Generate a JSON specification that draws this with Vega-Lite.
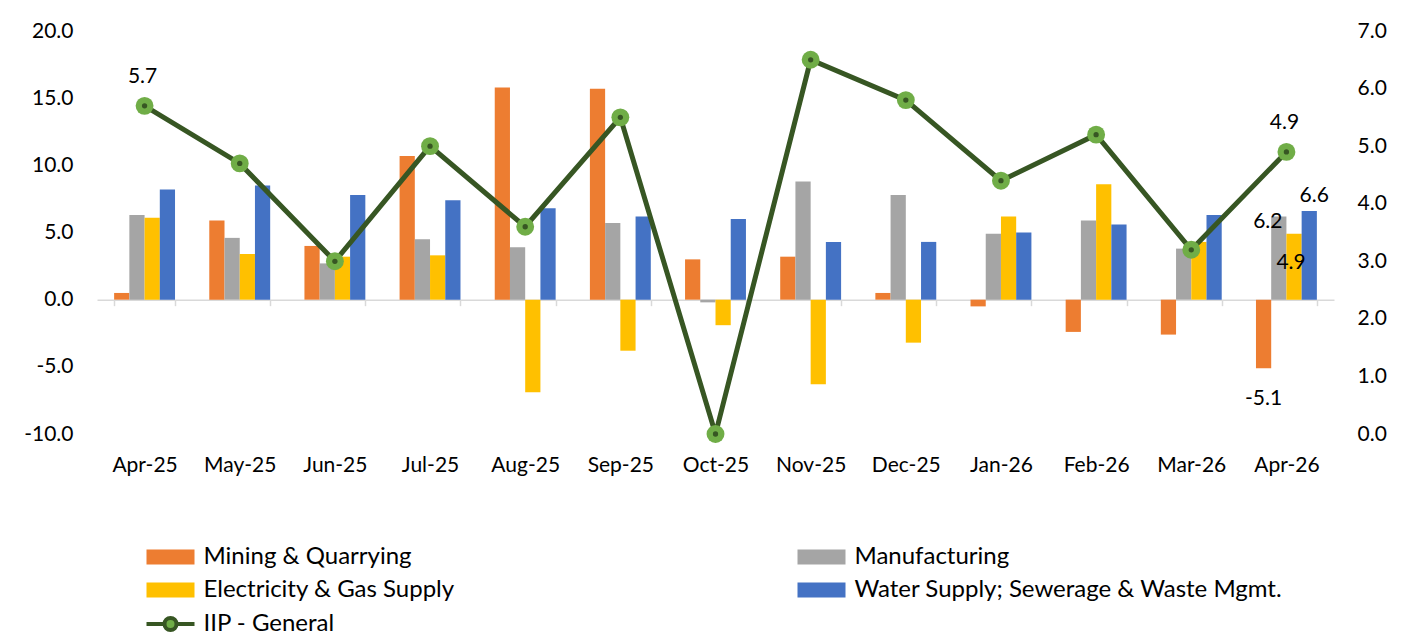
{
  "$schema": "https://vega.github.io/schema/vega-lite/v6.json",
  "autosize": {"type": "none"},
  "width": 1237,
  "height": 403,
  "padding": {"left": 97, "top": 31, "right": 67, "bottom": 202},
  "background": "white",
  "config": {
    "view": {"stroke": null},
    "font": "Lato",
    "locale": {"number": {"decimal": ".", "thousands": ",", "grouping": [3], "currency": ["$", ""], "minus": "-"}},
    "axis": {"labelFont": "Lato", "labelColor": "#000000", "labelFontSize": 21, "grid": false, "title": null},
    "legend": {"labelFont": "Lato", "labelColor": "#000000"}
  },
  "datasets": {
    "sectors": [
      {"month": "Apr-25", "series": "Mining & Quarrying", "value": 0.5},
      {"month": "May-25", "series": "Mining & Quarrying", "value": 5.9},
      {"month": "Jun-25", "series": "Mining & Quarrying", "value": 4.0},
      {"month": "Jul-25", "series": "Mining & Quarrying", "value": 10.7},
      {"month": "Aug-25", "series": "Mining & Quarrying", "value": 15.8},
      {"month": "Sep-25", "series": "Mining & Quarrying", "value": 15.7},
      {"month": "Oct-25", "series": "Mining & Quarrying", "value": 3.0},
      {"month": "Nov-25", "series": "Mining & Quarrying", "value": 3.2},
      {"month": "Dec-25", "series": "Mining & Quarrying", "value": 0.5},
      {"month": "Jan-26", "series": "Mining & Quarrying", "value": -0.5},
      {"month": "Feb-26", "series": "Mining & Quarrying", "value": -2.4},
      {"month": "Mar-26", "series": "Mining & Quarrying", "value": -2.6},
      {"month": "Apr-26", "series": "Mining & Quarrying", "value": -5.1},
      {"month": "Apr-25", "series": "Manufacturing", "value": 6.3},
      {"month": "May-25", "series": "Manufacturing", "value": 4.6},
      {"month": "Jun-25", "series": "Manufacturing", "value": 2.7},
      {"month": "Jul-25", "series": "Manufacturing", "value": 4.5},
      {"month": "Aug-25", "series": "Manufacturing", "value": 3.9},
      {"month": "Sep-25", "series": "Manufacturing", "value": 5.7},
      {"month": "Oct-25", "series": "Manufacturing", "value": -0.2},
      {"month": "Nov-25", "series": "Manufacturing", "value": 8.8},
      {"month": "Dec-25", "series": "Manufacturing", "value": 7.8},
      {"month": "Jan-26", "series": "Manufacturing", "value": 4.9},
      {"month": "Feb-26", "series": "Manufacturing", "value": 5.9},
      {"month": "Mar-26", "series": "Manufacturing", "value": 3.8},
      {"month": "Apr-26", "series": "Manufacturing", "value": 6.2},
      {"month": "Apr-25", "series": "Electricity & Gas Supply", "value": 6.1},
      {"month": "May-25", "series": "Electricity & Gas Supply", "value": 3.4},
      {"month": "Jun-25", "series": "Electricity & Gas Supply", "value": 3.2},
      {"month": "Jul-25", "series": "Electricity & Gas Supply", "value": 3.3},
      {"month": "Aug-25", "series": "Electricity & Gas Supply", "value": -6.9},
      {"month": "Sep-25", "series": "Electricity & Gas Supply", "value": -3.8},
      {"month": "Oct-25", "series": "Electricity & Gas Supply", "value": -1.9},
      {"month": "Nov-25", "series": "Electricity & Gas Supply", "value": -6.3},
      {"month": "Dec-25", "series": "Electricity & Gas Supply", "value": -3.2},
      {"month": "Jan-26", "series": "Electricity & Gas Supply", "value": 6.2},
      {"month": "Feb-26", "series": "Electricity & Gas Supply", "value": 8.6},
      {"month": "Mar-26", "series": "Electricity & Gas Supply", "value": 4.3},
      {"month": "Apr-26", "series": "Electricity & Gas Supply", "value": 4.9},
      {"month": "Apr-25", "series": "Water Supply; Sewerage & Waste Mgmt.", "value": 8.2},
      {"month": "May-25", "series": "Water Supply; Sewerage & Waste Mgmt.", "value": 8.5},
      {"month": "Jun-25", "series": "Water Supply; Sewerage & Waste Mgmt.", "value": 7.8},
      {"month": "Jul-25", "series": "Water Supply; Sewerage & Waste Mgmt.", "value": 7.4},
      {"month": "Aug-25", "series": "Water Supply; Sewerage & Waste Mgmt.", "value": 6.8},
      {"month": "Sep-25", "series": "Water Supply; Sewerage & Waste Mgmt.", "value": 6.2},
      {"month": "Oct-25", "series": "Water Supply; Sewerage & Waste Mgmt.", "value": 6.0},
      {"month": "Nov-25", "series": "Water Supply; Sewerage & Waste Mgmt.", "value": 4.3},
      {"month": "Dec-25", "series": "Water Supply; Sewerage & Waste Mgmt.", "value": 4.3},
      {"month": "Jan-26", "series": "Water Supply; Sewerage & Waste Mgmt.", "value": 5.0},
      {"month": "Feb-26", "series": "Water Supply; Sewerage & Waste Mgmt.", "value": 5.6},
      {"month": "Mar-26", "series": "Water Supply; Sewerage & Waste Mgmt.", "value": 6.3},
      {"month": "Apr-26", "series": "Water Supply; Sewerage & Waste Mgmt.", "value": 6.6}
    ],
    "iip": [
      {"month": "Apr-25", "series": "IIP - General", "value": 5.7},
      {"month": "May-25", "series": "IIP - General", "value": 4.7},
      {"month": "Jun-25", "series": "IIP - General", "value": 3.0},
      {"month": "Jul-25", "series": "IIP - General", "value": 5.0},
      {"month": "Aug-25", "series": "IIP - General", "value": 3.6},
      {"month": "Sep-25", "series": "IIP - General", "value": 5.5},
      {"month": "Oct-25", "series": "IIP - General", "value": 0.0},
      {"month": "Nov-25", "series": "IIP - General", "value": 6.5},
      {"month": "Dec-25", "series": "IIP - General", "value": 5.8},
      {"month": "Jan-26", "series": "IIP - General", "value": 4.4},
      {"month": "Feb-26", "series": "IIP - General", "value": 5.2},
      {"month": "Mar-26", "series": "IIP - General", "value": 3.2},
      {"month": "Apr-26", "series": "IIP - General", "value": 4.9}
    ]
  },
  "resolve": {"scale": {"y": "independent"}},
  "layer": [
    {
      "data": {"name": "sectors"},
      "layer": [
        {
          "mark": {"type": "bar"},
          "encoding": {
            "x": {
              "field": "month", "type": "nominal",
              "sort": ["Apr-25","May-25","Jun-25","Jul-25","Aug-25","Sep-25","Oct-25","Nov-25","Dec-25","Jan-26","Feb-26","Mar-26","Apr-26"],
              "scale": {"paddingInner": 0.36, "paddingOuter": 0.18},
              "axis": {
                "title": null, "offset": -134.33, "domain": true, "domainColor": "#D9D9D9", "domainWidth": 1.5,
                "ticks": true, "tickBand": "extent", "tickSize": 6, "tickColor": "#D9D9D9", "tickWidth": 1.5,
                "labelPadding": 149, "labelAngle": 0, "labelFontSize": 21
              }
            },
            "xOffset": {
              "field": "series", "type": "nominal",
              "scale": {"domain": ["Mining & Quarrying", "Manufacturing", "Electricity & Gas Supply", "Water Supply; Sewerage & Waste Mgmt."], "paddingInner": 0, "paddingOuter": 0}
            },
            "y": {
              "field": "value", "type": "quantitative",
              "scale": {"domain": [-10, 20], "nice": false, "zero": false},
              "axis": {"orient": "left", "values": [-10, -5, 0, 5, 10, 15, 20], "format": ".1f", "domain": false, "ticks": false, "grid": false, "labelPadding": 24, "title": null}
            },
            "color": {
              "field": "series", "type": "nominal",
              "scale": {
                "domain": ["Mining & Quarrying", "Electricity & Gas Supply", "Manufacturing", "Water Supply; Sewerage & Waste Mgmt."],
                "range": ["#ED7D31", "#FFC000", "#A5A5A5", "#4472C4"]
              },
              "legend": {
                "title": null, "orient": "none", "legendX": 61.5, "legendY": 514, "columns": 2,
                "columnPadding": 342, "rowPadding": 9, "symbolSize": 225, "labelOffset": 21,
                "symbolType": "M-3.2,-1H3.2V1H-3.2Z", "symbolOpacity": 1,
                "labelFontSize": 24, "labelLimit": 600, "padding": 0
              }
            }
          }
        },
        {
          "transform": [{"filter": "datum.month === 'Apr-26' && datum.series === 'Manufacturing'"}],
          "mark": {"type": "text", "fontSize": 21, "font": "Lato", "color": "#000000", "dx": -11, "dy": 6},
          "encoding": {
            "x": {"field": "month", "type": "nominal", "sort": ["Apr-25","May-25","Jun-25","Jul-25","Aug-25","Sep-25","Oct-25","Nov-25","Dec-25","Jan-26","Feb-26","Mar-26","Apr-26"]},
            "xOffset": {"field": "series", "type": "nominal"},
            "y": {"field": "value", "type": "quantitative"},
            "text": {"field": "value", "type": "quantitative", "format": ".1f"}
          }
        },
        {
          "transform": [{"filter": "datum.month === 'Apr-26' && datum.series === 'Electricity & Gas Supply'"}],
          "mark": {"type": "text", "fontSize": 21, "font": "Lato", "color": "#000000", "dx": -3, "dy": 29},
          "encoding": {
            "x": {"field": "month", "type": "nominal", "sort": ["Apr-25","May-25","Jun-25","Jul-25","Aug-25","Sep-25","Oct-25","Nov-25","Dec-25","Jan-26","Feb-26","Mar-26","Apr-26"]},
            "xOffset": {"field": "series", "type": "nominal"},
            "y": {"field": "value", "type": "quantitative"},
            "text": {"field": "value", "type": "quantitative", "format": ".1f"}
          }
        },
        {
          "transform": [{"filter": "datum.month === 'Apr-26' && datum.series === 'Water Supply; Sewerage & Waste Mgmt.'"}],
          "mark": {"type": "text", "fontSize": 21, "font": "Lato", "color": "#000000", "dx": 5, "dy": -15},
          "encoding": {
            "x": {"field": "month", "type": "nominal", "sort": ["Apr-25","May-25","Jun-25","Jul-25","Aug-25","Sep-25","Oct-25","Nov-25","Dec-25","Jan-26","Feb-26","Mar-26","Apr-26"]},
            "xOffset": {"field": "series", "type": "nominal"},
            "y": {"field": "value", "type": "quantitative"},
            "text": {"field": "value", "type": "quantitative", "format": ".1f"}
          }
        },
        {
          "transform": [{"filter": "datum.month === 'Apr-26' && datum.series === 'Mining & Quarrying'"}],
          "mark": {"type": "text", "fontSize": 21, "font": "Lato", "color": "#000000", "dx": 0, "dy": 31},
          "encoding": {
            "x": {"field": "month", "type": "nominal", "sort": ["Apr-25","May-25","Jun-25","Jul-25","Aug-25","Sep-25","Oct-25","Nov-25","Dec-25","Jan-26","Feb-26","Mar-26","Apr-26"]},
            "xOffset": {"field": "series", "type": "nominal"},
            "y": {"field": "value", "type": "quantitative"},
            "text": {"field": "value", "type": "quantitative", "format": ".1f"}
          }
        }
      ]
    },
    {
      "data": {"name": "iip"},
      "layer": [
        {
          "mark": {"type": "line", "strokeWidth": 5},
          "encoding": {
            "x": {"field": "month", "type": "nominal", "sort": ["Apr-25","May-25","Jun-25","Jul-25","Aug-25","Sep-25","Oct-25","Nov-25","Dec-25","Jan-26","Feb-26","Mar-26","Apr-26"]},
            "y": {
              "field": "value", "type": "quantitative",
              "scale": {"domain": [0, 7], "nice": false, "zero": false},
              "axis": {"orient": "right", "values": [0, 1, 2, 3, 4, 5, 6, 7], "format": ".1f", "domain": false, "ticks": false, "grid": false, "labelPadding": 23, "title": null}
            },
            "stroke": {
              "field": "series", "type": "nominal",
              "scale": {"domain": ["IIP - General"], "range": ["#375623"]},
              "legend": {
                "title": null, "orient": "none", "legendX": 61.5, "legendY": 581,
                "symbolSize": 225, "labelOffset": 21,
                "symbolType": "M-3.2,0H-0.8M0.8,0H3.2M-0.8,0A0.8,0.8 0 1,0 0.8,0A0.8,0.8 0 1,0 -0.8,0Z",
                "symbolFillColor": "#70AD47", "symbolStrokeWidth": 4, "symbolOpacity": 1,
                "labelFontSize": 24, "labelLimit": 600, "padding": 0
              }
            }
          }
        },
        {
          "mark": {"type": "point", "filled": true, "size": 320, "color": "#70AD47", "opacity": 1},
          "encoding": {
            "x": {"field": "month", "type": "nominal", "sort": ["Apr-25","May-25","Jun-25","Jul-25","Aug-25","Sep-25","Oct-25","Nov-25","Dec-25","Jan-26","Feb-26","Mar-26","Apr-26"]},
            "y": {"field": "value", "type": "quantitative"}
          }
        },
        {
          "mark": {"type": "point", "filled": true, "size": 28, "color": "#375623", "opacity": 1},
          "encoding": {
            "x": {"field": "month", "type": "nominal", "sort": ["Apr-25","May-25","Jun-25","Jul-25","Aug-25","Sep-25","Oct-25","Nov-25","Dec-25","Jan-26","Feb-26","Mar-26","Apr-26"]},
            "y": {"field": "value", "type": "quantitative"}
          }
        },
        {
          "transform": [{"filter": "datum.month === 'Apr-25' || datum.month === 'Apr-26'"}],
          "mark": {"type": "text", "fontSize": 21, "font": "Lato", "color": "#000000", "dx": -2, "dy": -29},
          "encoding": {
            "x": {"field": "month", "type": "nominal", "sort": ["Apr-25","May-25","Jun-25","Jul-25","Aug-25","Sep-25","Oct-25","Nov-25","Dec-25","Jan-26","Feb-26","Mar-26","Apr-26"]},
            "y": {"field": "value", "type": "quantitative"},
            "text": {"field": "value", "type": "quantitative", "format": ".1f"}
          }
        }
      ]
    }
  ]
}
